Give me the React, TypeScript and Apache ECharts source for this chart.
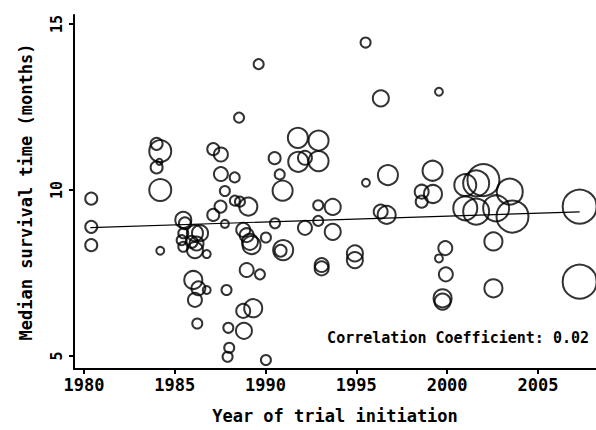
import React, { useEffect, useRef } from "react";
import * as echarts from "echarts";

// Trial start year, median survival (months), relative trial size (patients)
const years = [
  1980.4, 1980.4, 1980.4, 1984.0, 1984.2, 1984.15, 1984.0, 1984.2, 1984.2,
  1985.47, 1985.56, 1985.47, 1985.38, 1985.47, 1985.93, 1986.11, 1986.2, 1986.11, 1986.39, 1986.76,
  1986.02, 1986.3, 1986.76, 1986.11, 1986.24,
  1987.12, 1987.54, 1987.54, 1988.3, 1987.76, 1987.52, 1987.12, 1987.76, 1988.31, 1988.59,
  1989.05, 1988.54, 1989.62, 1988.77, 1988.96, 1989.14, 1989.23, 1990.02, 1988.96, 1989.69,
  1987.85, 1989.32, 1988.77, 1988.81, 1987.95, 1988.0, 1987.91, 1990.02,
  1990.5, 1990.78, 1990.94, 1990.52, 1990.83, 1990.97, 1991.78, 1992.92, 1991.8, 1992.17,
  1992.92, 1992.17, 1992.9, 1992.9, 1993.7, 1993.7, 1993.09, 1993.09, 1994.92, 1994.92,
  1995.51, 1996.35, 1999.55, 1996.74, 1995.53, 1996.34, 1996.67, 1999.2, 1998.6, 1999.22,
  1998.6, 1999.9, 1999.55, 1999.93, 1999.75, 1999.75,
  2001.0, 2001.6, 2002.0, 2003.45, 2001.0, 2001.6, 2002.7, 2003.6, 2002.55, 2002.55,
  2007.3, 2007.3,
];
const survival = [
  9.74, 8.89, 8.34, 11.39, 11.17, 10.85, 10.68, 10.0, 8.17,
  9.1, 9.0, 8.7, 8.49, 8.29, 8.44, 8.7, 8.39, 8.19, 8.7, 8.07,
  7.29, 7.04, 6.99, 6.69, 5.98,
  11.23, 11.07, 10.48, 10.38, 9.97, 9.5, 9.25, 8.98, 9.68, 9.65,
  9.5, 12.18, 13.79, 8.8, 8.64, 8.44, 8.34, 8.57, 7.59, 7.46,
  6.99, 6.44, 6.36, 5.76, 5.85, 5.25, 4.98, 4.88,
  10.96, 10.47, 9.98, 9.0, 8.17, 8.19, 11.57, 11.49, 10.85, 10.97,
  10.87, 8.86, 9.54, 9.07, 9.49, 8.74, 7.74, 7.64, 8.09, 7.89,
  14.44, 12.76, 12.96, 10.45, 10.22, 9.35, 9.25, 10.58, 9.95, 9.88,
  9.65, 8.25, 7.94, 7.46, 6.74, 6.64,
  10.15, 10.2, 10.3, 9.95, 9.45, 9.35, 9.45, 9.2, 8.45, 7.04,
  9.5, 7.24,
];
const patients = [
  115, 115, 115, 115, 385, 30, 115, 385, 50,
  205, 115, 80, 80, 80, 115, 205, 155, 205, 205, 50,
  260, 155, 50, 155, 80,
  115, 155, 155, 80, 80, 115, 115, 50, 80, 80,
  260, 80, 80, 155, 155, 205, 260, 80, 155, 80,
  80, 260, 155, 205, 80, 80, 80, 80,
  115, 80, 320, 80, 115, 320, 320, 320, 320, 155,
  320, 155, 80, 80, 205, 205, 155, 155, 205, 205,
  80, 205, 50, 320, 50, 155, 260, 320, 155, 260,
  115, 155, 50, 155, 260, 205,
  385, 540, 815, 540, 460, 540, 540, 815, 260, 260,
  920, 920,
];

// Fitted regression line end points
const fitYears = [1980.35, 2007.3];
const fitValues = [8.87, 9.34];

const xTicks = [1980, 1985, 1990, 1995, 2000, 2005];
const yTicks = [5, 10, 15];
const corrText = "Correlation Coefficient: 0.02";

const FONT = "'DejaVu Sans Mono', 'Liberation Mono', monospace";

export default function App() {
  const ref = useRef<HTMLDivElement>(null);
  useEffect(() => {
    if (!ref.current) return;
    const chart = echarts.init(ref.current, null, { renderer: "svg" });
    const points = years.map((y, i) => [y, survival[i], patients[i]]);
    const fit = fitYears.map((y, i) => [y, fitValues[i]]);
    chart.setOption({
      animation: false,
      backgroundColor: "#fff",
      grid: { left: 74, top: 15, right: 0, bottom: 61 },
      xAxis: {
        type: "value",
        min: 1979.45,
        max: 2008.2,
        name: "Year of trial initiation",
        nameLocation: "middle",
        nameGap: 38,
        nameTextStyle: { fontFamily: FONT, fontSize: 17, fontWeight: "bold", color: "#000" },
        axisLine: { show: true, onZero: false, lineStyle: { color: "#000", width: 2 } },
        axisTick: { show: true, length: 5, customValues: xTicks, lineStyle: { color: "#000", width: 2 } },
        axisLabel: {
          customValues: xTicks,
          fontFamily: FONT,
          fontSize: 17,
          fontWeight: "bold",
          color: "#000",
          margin: 7,
          formatter: (v: number) => String(v),
        },
        splitLine: { show: false },
      },
      yAxis: {
        type: "value",
        min: 4.61,
        max: 15.27,
        name: "Median survival time (months)",
        nameLocation: "middle",
        nameGap: 40,
        nameTextStyle: { fontFamily: FONT, fontSize: 17, fontWeight: "bold", color: "#000" },
        axisLine: { show: true, onZero: false, lineStyle: { color: "#000", width: 2 } },
        axisTick: { show: true, length: 5, customValues: yTicks, lineStyle: { color: "#000", width: 2 } },
        axisLabel: {
          customValues: yTicks,
          rotate: 90,
          fontFamily: FONT,
          fontSize: 15,
          fontWeight: "bold",
          color: "#000",
          margin: 10,
          formatter: (v: number) => String(v),
        },
        splitLine: { show: false },
      },
      series: [
        {
          type: "scatter",
          data: points,
          symbol: "circle",
          symbolSize: (d: number[]) => 1.12 * Math.sqrt(d[2]),
          itemStyle: { color: "rgba(0,0,0,0)", borderColor: "#000", borderWidth: 2 },
          emphasis: { disabled: true },
          z: 3,
        },
        {
          type: "line",
          data: fit,
          symbol: "none",
          lineStyle: { color: "#000", width: 1.2 },
          z: 2,
        },
      ],
      graphic: [
        {
          type: "text",
          right: 7,
          top: 330,
          style: { text: corrText, fontFamily: FONT, fontSize: 15, fontWeight: "bold", fill: "#000" },
        },
      ],
    });
    return () => chart.dispose();
  }, []);
  return <div ref={ref} style={{ position: "fixed", left: 0, top: 0, width: 596, height: 430, background: "#fff" }} />;
}
